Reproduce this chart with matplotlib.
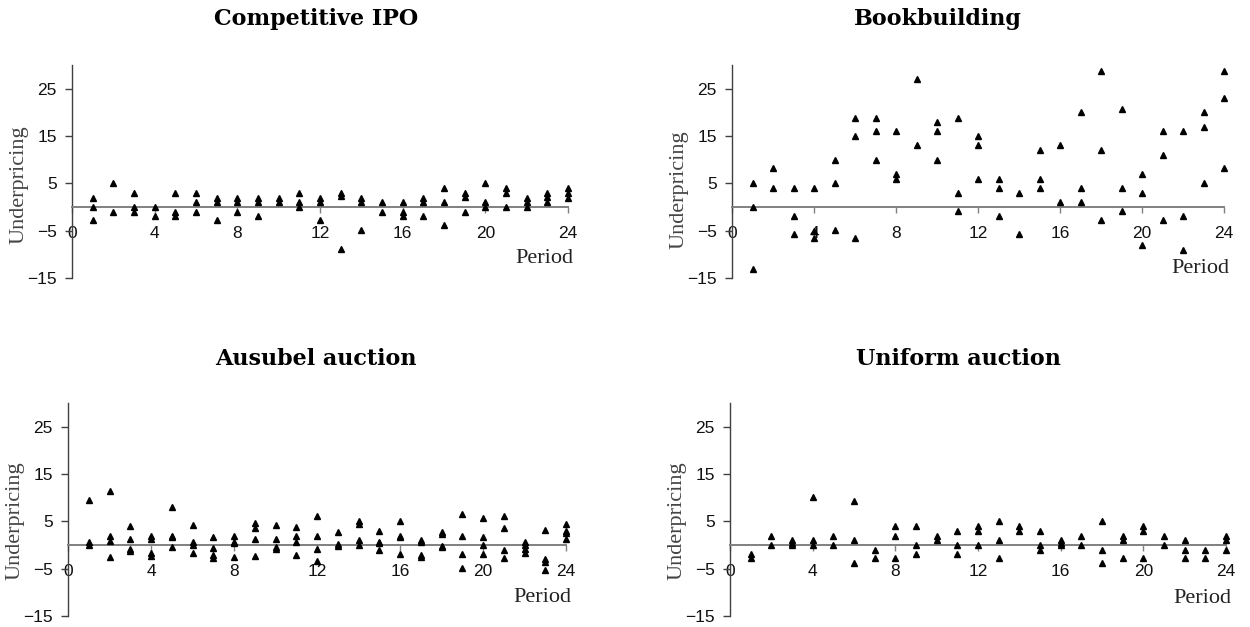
import matplotlib
matplotlib.use('Agg')
import matplotlib.pyplot as plt

periods = list(range(1, 25))

competitive = [
    [2, 0, -2.7], [5, -1], [3, 0, -1], [0, -1.8], [3, -1.1, -1.8], [3, 1, -1],
    [2, 1, -2.7], [2, 1, -1], [2, 1, -1.8], [2, 1], [3, 1, 0], [2, 1, -2.7],
    [3, 2.4, -8.9], [2, 1, -4.8], [1, -1], [1, -1, -1.8], [2, 1, -1.8], [4, 1, -3.8],
    [3, 2.2, -1], [5, 1, 0], [4, 3, 0], [2, 1, 0], [3, 2.2, 1], [4, 3, 2],
]
bookbuilding = [
    [5, 0, -13], [8.2, 4], [4, -1.8, -5.8], [4, -5, -6.5], [10, 5, -4.9], [18.8, 15, -6.6],
    [18.8, 16, 10], [16, 7, 6], [27, 13], [18, 16, 10], [18.8, 3, -0.9], [15, 13, 6],
    [6, 4, -1.8], [3, -5.7], [12, 6, 4], [13, 1], [20, 4, 1], [28.8, 12, -2.7],
    [20.8, 4, -0.9], [7, 3, -8], [16, 11, -2.7], [16, -1.8, -9], [20, 17, 5], [28.8, 23, 8.2],
]
ausubel = [
    [9.5, 0.7, 0], [11.5, 2, 0.9, -2.5], [4, 1.3, -0.8, -1.2], [2, 1.3, -1.6, -2.3],
    [8.1, 2, 1.6, -0.5], [4.2, 0.7, 0, -1.6], [1.8, -0.7, -2.1, -2.8], [2, 0.7, 0.4, -2.5],
    [4.7, 3.7, 1.3, -2.3], [4.2, 1.3, -0.5, -0.9], [3.9, 2, 0.7, -2.2], [6.2, 2, -0.9, -3.3],
    [2.8, 0.2, -0.1], [5.1, 4.5, 1.1, 0], [3, 0.7, 0.4, -1.1], [5.1, 2, 1.6, -1.9],
    [1.1, 0.7, -2.1, -2.5], [2.8, 2.3, -0.1, -0.5], [6.6, 2, -1.9, -4.8], [5.7, 1.6, 0, -1.9],
    [6.1, 3.5, -1.1, -2.8], [0.6, 0, -0.8, -1.6], [3.2, -3, -3.6, -5.3], [4.5, 3, 2.5, 1.3],
]
uniform = [
    [-1.9, -2.8], [2, 0], [1.1, 0.5, 0], [10.1, 1.1, 0], [2, 0], [9.2, 1.1, -3.9],
    [-1.1, -2.8], [4.1, 2, -2.8], [4.1, 0, -1.9], [2, 1.1], [3, 0, -1.9], [4.1, 3, 0],
    [5.1, 1.1, -2.8], [4.1, 3], [3, 0, -1.1], [1.1, 0.5, 0], [2, 0], [5.1, -1.1, -3.9],
    [2, 1.1, -2.8], [4.1, 3, -2.8], [2, 0], [1.1, -1.1, -2.8], [-1.1, -2.8], [2, 1.1, -1.1],
]

panels = [
    ('Competitive IPO', competitive, [0.0576, 0.5566, 0.3968, 0.3397], 316, 0.969, 0.437, -10.8),
    ('Bookbuilding', bookbuilding, [0.5856, 0.5566, 0.3936, 0.3397], 938, 0.969, 0.413, -12.9),
    ('Ausubel auction', ausubel, [0.0544, 0.0175, 0.3984, 0.3397], 316, 0.428, 0.446, -11.0),
    ('Uniform auction', uniform, [0.5840, 0.0175, 0.3968, 0.3397], 958, 0.428, 0.446, -11.2),
]

fig = plt.figure(figsize=(12.5, 6.27), dpi=100)

for title, obs, rect, tx, ty, ylab_y, per_y in panels:
    ax = fig.add_axes(rect)
    xs = [p for p, vals in zip(periods, obs) for v in vals]
    ys = [v for vals in obs for v in vals]
    ax.plot(xs, ys, linestyle='none', marker='^', markersize=5, color='black', clip_on=False, zorder=3)

    ax.set_xlim(0, 24)
    ax.set_ylim(-15, 30)
    ax.set_xticks(range(0, 25, 4))
    ax.set_yticks([-15, -5, 5, 15, 25])

    ax.spines['top'].set_visible(False)
    ax.spines['right'].set_visible(False)
    ax.spines['bottom'].set_position(('data', 0))
    ax.spines['bottom'].set_color('#808080')
    ax.spines['bottom'].set_linewidth(1.4)
    ax.spines['left'].set_color('#404040')
    ax.spines['left'].set_linewidth(1.0)
    ax.spines['left'].set_bounds(-15, 30)

    ax.tick_params(axis='x', direction='out', length=4, width=1, color='#808080', pad=10)
    ax.tick_params(axis='y', direction='out', length=5, width=1, color='#404040', pad=6)
    for lab in ax.get_xticklabels() + ax.get_yticklabels():
        lab.set_fontfamily('Liberation Sans')
        lab.set_fontsize(12.5)
        lab.set_color('#111111')

    ax.set_ylabel('Underpricing', fontfamily='Liberation Serif', fontsize=16, color='#444444')
    ax.yaxis.set_label_coords(-0.088, ylab_y)
    ax.text(24.25, per_y, 'Period', ha='right', va='center',
            fontfamily='Liberation Serif', fontsize=16, color='#222222')

    fig.text(tx / 1250, ty, title, ha='center', va='center',
             fontfamily='DejaVu Serif', fontweight='bold', fontsize=16)

fig.savefig('out.png', dpi=100)
